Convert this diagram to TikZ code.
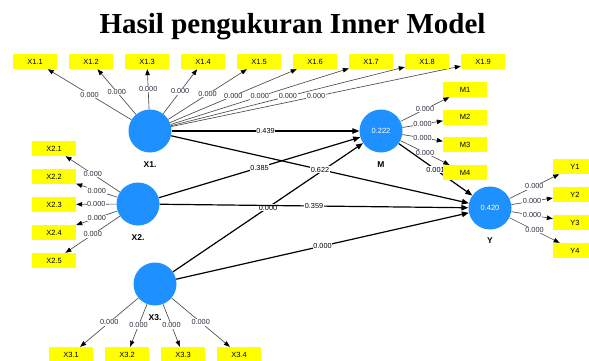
\documentclass[tikz,border=0pt]{standalone}
\usepackage{fontspec}
\setmainfont{Liberation Sans}
\newfontfamily\titlefont{Liberation Serif}
\usetikzlibrary{arrows.meta,backgrounds}
\definecolor{lvblue}{RGB}{30,144,255}
\definecolor{indyellow}{RGB}{255,255,0}
\definecolor{pathtext}{RGB}{40,45,60}
\definecolor{outerline}{RGB}{75,75,75}
\begin{document}
\begin{tikzpicture}[x=1pt,y=-1pt,
  latent/.style={circle,fill=lvblue,minimum size=43pt,inner sep=0pt,text=white,
    font=\fontsize{7.5}{8}\selectfont},
  indicator/.style={rectangle,fill=indyellow,minimum width=44pt,minimum height=15pt,
    inner sep=0pt,font=\fontsize{7.5}{8}\selectfont},
  lvname/.style={font=\bfseries\fontsize{8.5}{9}\selectfont},
  loading/.style={draw=outerline,line width=0.65pt,
    -{Triangle[length=6pt,width=4.5pt,color=black]}},
  structural/.style={draw=black,line width=1.2pt,
    -{Triangle[length=7pt,width=5.5pt]}},
  coef/.style={fill=white,inner sep=0.6pt,text=pathtext,font=\fontsize{7.3}{8}\selectfont},
  pathcoef/.style={coef,text=black},
]
\useasboundingbox (0,0) rectangle (589,361);

% title
\node[anchor=base,font=\titlefont\bfseries\fontsize{29}{32}\selectfont] (title)
  at (292.5,34) {Hasil pengukuran Inner Model};

% latent variables
\node[latent] (X1) at (150,131) {};
\node[latent] (X2) at (138,204) {};
\node[latent] (X3) at (155,284) {};
\node[latent] (M)  at (381,131) {0.222};
\node[latent] (Y)  at (490,208) {0.420};

\node[lvname] (X1n) at (150,165) {X1.};
\node[lvname] (X2n) at (138,238) {X2.};
\node[lvname] (X3n) at (155,318) {X3.};
\node[lvname] (Mn)  at (381,165) {M};
\node[lvname] (Yn)  at (490,241) {Y};

% indicators
\foreach \k in {1,...,9}
  \node[indicator] (X1-\k) at ({35+56*(\k-1)},61.5) {X1.\k};
\foreach \k in {1,...,5}
  \node[indicator] (X2-\k) at (54,{148.5+28*(\k-1)}) {X2.\k};
\foreach \k in {1,...,4}
  \node[indicator] (X3-\k) at ({71+56*(\k-1)},354.5) {X3.\k};
\foreach \k in {1,...,4}
  \node[indicator] (M-\k) at (465,{89.5+27.7*(\k-1)}) {M\k};
\foreach \k in {1,...,4}
  \node[indicator] (Y-\k) at (575,{166.5+28*(\k-1)}) {Y\k};

\begin{scope}[on background layer]
  % outer model loadings
  \foreach \k in {1,...,9}
    \draw[loading] (X1) -- node[coef] {0.000} (X1-\k);
  \foreach \k in {1,...,5}
    \draw[loading] (X2) -- node[coef] {0.000} (X2-\k);
  \foreach \k in {1,...,4}
    \draw[loading] (X3) -- node[coef] {0.000} (X3-\k);
  \foreach \k in {1,...,4}
    \draw[loading] (M) -- node[coef] {0.000} (M-\k);
  \foreach \k in {1,...,4}
    \draw[loading] (Y) -- node[coef] {0.000} (Y-\k);

  % inner model paths
  \draw[structural] (X1) -- node[pathcoef] {0.439} (M);
  \draw[structural] (X2) -- node[pathcoef] {0.385} (M);
  \draw[structural] (X3) -- node[pathcoef] {0.000} (M);
  \draw[structural] (X1) -- node[pathcoef] {0.622} (Y);
  \draw[structural] (X2) -- node[pathcoef] {0.359} (Y);
  \draw[structural] (X3) -- node[pathcoef] {0.000} (Y);
  \draw[structural] (M)  -- node[pathcoef] {0.001} (Y);
\end{scope}
\end{tikzpicture}
\end{document}
